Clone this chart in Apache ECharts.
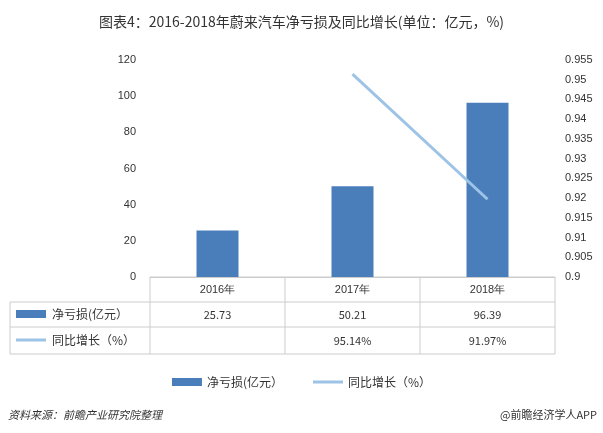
<!DOCTYPE html>
<html>
<head>
<meta charset="utf-8">
<script src="https://cdn.jsdelivr.net/npm/echarts@6/dist/echarts.min.js"></script>
<style>html,body{margin:0;padding:0;background:#fff}#main{width:603px;height:433px}</style>
</head>
<body>
<div id="main"></div>
<script>
(function() {
    const years = ['2016年', '2017年', '2018年'];
    const netLoss = [25.73, 50.21, 96.39];
    const growth = [null, 0.9514, 0.9197];
    const growthLabels = ['', '95.14%', '91.97%'];
    const lossName = '净亏损(亿元）';
    const growthName = '同比增长（%）';

    const chart = echarts.init(document.getElementById('main'));
    const font = '"Noto Sans CJK SC", sans-serif';
    const left = 150, right = 555, colW = (right - left) / years.length;
    const lineC = '#ccc';

    // data table under the plot, built from the arrays
    let g = [];
    const rowY = [277, 302, 327, 354];
    [[10, right, rowY[1]], [10, right, rowY[2]], [10, right, rowY[3]], [left, right, rowY[0]]].forEach(function(l) {
        g.push({ type: 'line', shape: { x1: l[0], y1: l[2], x2: l[1], y2: l[2] }, style: { stroke: lineC } });
    });
    g.push({ type: 'line', shape: { x1: 10, y1: rowY[1], x2: 10, y2: rowY[3] }, style: { stroke: lineC } });
    for (let i = 0; i <= years.length; i++) {
        g.push({ type: 'line', shape: { x1: left + i * colW, y1: rowY[0], x2: left + i * colW, y2: rowY[3] }, style: { stroke: lineC } });
    }
    years.forEach(function(y, i) {
        const cx = left + (i + 0.5) * colW;
        g.push({ type: 'text', x: cx, y: (rowY[0] + rowY[1]) / 2, style: { text: y, align: 'center', verticalAlign: 'middle', fontSize: 11, fill: '#333', font: '11px ' + font } });
        g.push({ type: 'text', x: cx, y: (rowY[1] + rowY[2]) / 2, style: { text: String(netLoss[i]), align: 'center', verticalAlign: 'middle', fill: '#333', font: '11px ' + font } });
        g.push({ type: 'text', x: cx, y: (rowY[2] + rowY[3]) / 2, style: { text: growthLabels[i], align: 'center', verticalAlign: 'middle', fill: '#333', font: '11px ' + font } });
    });
    g.push({ type: 'rect', shape: { x: 16, y: 310, width: 30, height: 8 }, style: { fill: '#4a7ebb' } });
    g.push({ type: 'text', x: 52, y: 314, style: { text: lossName, verticalAlign: 'middle', fill: '#333', font: '12px ' + font } });
    g.push({ type: 'line', shape: { x1: 16, y1: 340, x2: 46, y2: 340 }, style: { stroke: '#9dc3e6', lineWidth: 3 } });
    g.push({ type: 'text', x: 52, y: 340, style: { text: growthName, verticalAlign: 'middle', fill: '#333', font: '12px ' + font } });
    g.push({ type: 'text', x: 8, y: 415, style: { text: '资料来源：前瞻产业研究院整理', verticalAlign: 'middle', fill: '#333', font: 'italic 11px ' + font } });
    g.push({ type: 'text', x: 597, y: 415, style: { text: '@前瞻经济学人APP', align: 'right', verticalAlign: 'middle', fill: '#333', font: '11px ' + font } });

    const option = {
        title: {
            text: '图表4：2016-2018年蔚来汽车净亏损及同比增长(单位：亿元，%)',
            left: 'center', top: 10,
            textStyle: { fontSize: 14, fontWeight: 'normal', color: '#333', fontFamily: font }
        },
        legend: {
            bottom: 40, left: 'center', itemGap: 30,
            textStyle: { fontSize: 12, color: '#333', fontFamily: font },
            data: [
                { name: lossName, icon: 'rect', itemStyle: { color: '#4a7ebb' } },
                { name: growthName, icon: 'path://M0,0H30V3H0Z' }
            ],
            itemWidth: 30, itemHeight: 8
        },
        grid: { left: left, right: 603 - right, top: 60, bottom: 433 - 277 },
        xAxis: {
            type: 'category', data: years,
            axisLine: { lineStyle: { color: '#ccc' } },
            axisTick: { show: false }, axisLabel: { show: false }
        },
        yAxis: [{
            type: 'value', min: 0, max: 120, interval: 20,
            splitLine: { show: false }, axisLine: { show: false }, axisTick: { show: false },
            axisLabel: { color: '#333', fontSize: 11, margin: 14 }
        }, {
            type: 'value', min: 0.9, max: 0.955, interval: 0.005,
            splitLine: { show: false }, axisLine: { show: false }, axisTick: { show: false },
            axisLabel: { color: '#333', fontSize: 11, margin: 10, formatter: function(v) { return String(+v.toFixed(3)); } }
        }],
        series: [{
            name: lossName, type: 'bar', data: netLoss, barWidth: 42,
            itemStyle: { color: '#4a7ebb' }
        }, {
            name: growthName, type: 'line', yAxisIndex: 1, data: growth,
            showSymbol: false, lineStyle: { width: 3, color: '#9dc3e6' }, itemStyle: { color: '#9dc3e6' }
        }],
        graphic: g
    };
    chart.setOption(option);
})();
</script>
</body>
</html>
